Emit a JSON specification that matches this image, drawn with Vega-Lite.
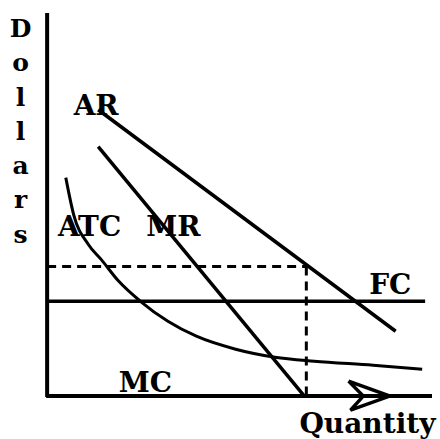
{
  "$schema": "https://vega.github.io/schema/vega-lite/v6.json",
  "width": 440,
  "height": 439,
  "padding": 0,
  "autosize": {"type": "fit", "contains": "padding"},
  "background": "white",
  "config": {"view": {"stroke": null}},
  "datasets": {
    "axes": [
      {"s": "yaxis", "q": 48, "d": 426, "o": 1},
      {"s": "yaxis", "q": 48, "d": 41, "o": 2},
      {"s": "xaxis", "q": 47, "d": 42, "o": 1},
      {"s": "xaxis", "q": 440, "d": 42, "o": 2}
    ],
    "solid": [
      {"s": "AR", "q": 100, "d": 329, "o": 1},
      {"s": "AR", "q": 403, "d": 107, "o": 2},
      {"s": "MR", "q": 100, "d": 292, "o": 1},
      {"s": "MR", "q": 310, "d": 42, "o": 2},
      {"s": "FC", "q": 48, "d": 137, "o": 1},
      {"s": "FC", "q": 433, "d": 137, "o": 2},
      {"s": "arrow", "q": 355, "d": 57, "o": 1},
      {"s": "arrow", "q": 397, "d": 42, "o": 2},
      {"s": "arrow", "q": 357, "d": 28, "o": 3},
      {"s": "arrow", "q": 370, "d": 42, "o": 4},
      {"s": "arrow", "q": 355, "d": 57, "o": 5}
    ],
    "atc": [
      {"q": 67, "d": 261},
      {"q": 75, "d": 224},
      {"q": 90, "d": 194},
      {"q": 103, "d": 179},
      {"q": 121, "d": 157},
      {"q": 143, "d": 137},
      {"q": 171, "d": 117},
      {"q": 200, "d": 102},
      {"q": 240, "d": 89},
      {"q": 280, "d": 81},
      {"q": 320, "d": 77},
      {"q": 380, "d": 73},
      {"q": 430, "d": 69}
    ],
    "dashed": [
      {"s": "h", "q": 48, "d": 172, "o": 1},
      {"s": "h", "q": 312, "d": 172, "o": 2},
      {"s": "v", "q": 312, "d": 172, "o": 1},
      {"s": "v", "q": 312, "d": 42, "o": 2}
    ],
    "labels": [
      {"t": "AR", "q": 75, "d": 324},
      {"t": "ATC", "q": 59, "d": 202},
      {"t": "MR", "q": 149, "d": 202},
      {"t": "FC", "q": 376, "d": 144},
      {"t": "MC", "q": 121, "d": 46},
      {"t": "Quantity", "q": 305, "d": 5}
    ],
    "ylabel": [
      {"t": "D\no\nl\nl\na\nr\ns", "q": 21, "d": 402}
    ]
  },
  "encoding": {
    "x": {"field": "q", "type": "quantitative", "scale": {"domain": [0, 440], "nice": false, "zero": false}, "axis": null},
    "y": {"field": "d", "type": "quantitative", "scale": {"domain": [0, 439], "nice": false, "zero": false}, "axis": null}
  },
  "layer": [
    {
      "data": {"name": "axes"},
      "mark": {"type": "line", "color": "black", "strokeWidth": 4, "clip": false},
      "encoding": {"detail": {"field": "s"}, "order": {"field": "o"}}
    },
    {
      "data": {"name": "solid"},
      "mark": {"type": "line", "color": "black", "strokeWidth": 3.5, "strokeJoin": "miter", "clip": false},
      "encoding": {"detail": {"field": "s"}, "order": {"field": "o"}}
    },
    {
      "data": {"name": "atc"},
      "mark": {"type": "line", "color": "black", "strokeWidth": 3, "interpolate": "monotone", "clip": false},
      "encoding": {"order": {"field": "q"}}
    },
    {
      "data": {"name": "dashed"},
      "mark": {"type": "line", "color": "black", "strokeWidth": 3, "strokeDash": [9, 6], "clip": false},
      "encoding": {"detail": {"field": "s"}, "order": {"field": "o"}}
    },
    {
      "data": {"name": "labels"},
      "mark": {"type": "text", "align": "left", "baseline": "alphabetic", "font": "DejaVu Serif", "fontWeight": "bold", "fontSize": 28, "color": "black", "clip": false},
      "encoding": {"text": {"field": "t"}}
    },
    {
      "data": {"name": "ylabel"},
      "mark": {"type": "text", "align": "center", "baseline": "alphabetic", "lineBreak": "\n", "lineHeight": 34.3, "font": "DejaVu Serif", "fontWeight": "bold", "fontSize": 25, "color": "black", "clip": false},
      "encoding": {"text": {"field": "t"}}
    }
  ]
}
